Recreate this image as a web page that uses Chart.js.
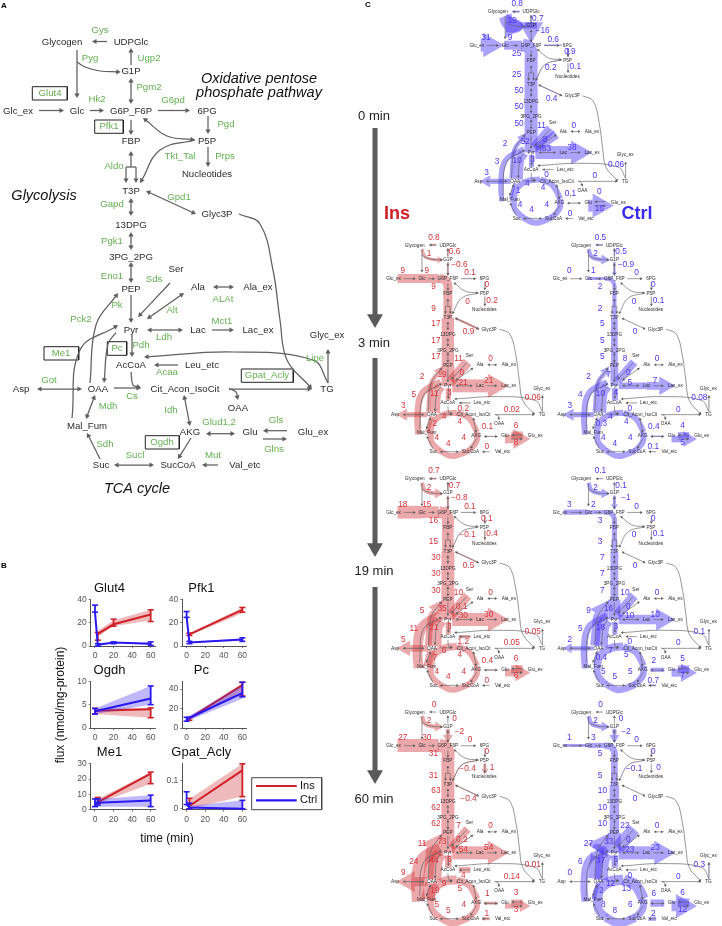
<!DOCTYPE html>
<html>
<head>
<meta charset="utf-8">
<script src="https://cdn.jsdelivr.net/npm/chart.js@4"></script>
<style>
html,body{margin:0;padding:0;background:#fff;}
#wrap{position:relative;width:722px;height:926px;overflow:hidden;}
canvas{position:absolute;display:block;}
</style>
</head>
<body>
<div id="wrap"><canvas id="main" width="722" height="926" style="left:0;top:0"></canvas></div>
<script>
// ---------- network nodes ----------
const nodeNames=["Glycogen","UDPGlc","G1P","Glc_ex","Glc","G6P_F6P","6PG","FBP","P5P","Nucleotides","T3P","Glyc3P","13DPG","3PG_2PG","Ser","PEP","Ala","Ala_ex","Pyr","Lac","Lac_ex","Glyc_ex","AcCoA","Leu_etc","Asp","OAA","Cit_Acon_IsoCit","TG","OAA","Mal_Fum","AKG","Glu","Glu_ex","Suc","SucCoA","Val_etc"];
const nodeX=[62,131,131,18,77,131,207,131,207,207,131,217,131,131,176,131,198,258,131,198,258,327,131,202,21,98,185,327,238,87,190,250,313,101,178,245];
const nodeY=[42,42,71,111,111,111,111,141,141,174,191,214,225,257,269,289,287,287,330,330,330,335,365,365,389,389,389,389,408,426,432,432,432,465,465,465];
// ---------- enzymes (panel A) ----------
const enzymeNames=["Gys","Pyg","Ugp2","Pgm2","Glut4","Hk2","G6pd","Pgd","Pfk1","Tkt_Tal","Prps","Aldo","Gpd1","Gapd","Pgk1","Eno1","Sds","ALAt","Alt","Pk","Pck2","Mct1","Ldh","Pdh","Pc","Me1","Lipe","Acaa","Gpat_Acly","Got","Cs","Mdh","Idh","Glud1,2","Gls","Ogdh","Sdh","Glns","Sucl","Mut"];
const enzymeX=[100,90,149,149,50,97,173,226,109,180,225,114,179,112,112,112,154,223,172,117,81,222,164,141,117,61,315,167,267,49,132,108,171,219,276,162,105,274,135,213];
const enzymeY=[30,58,58,87,93,99,100,124,126,156,156,166,197,204,241,276,279,299,310,305,319,321,337,345,348,353,358,372,375,380,396,406,410,422,420,442,444,449,455,455];
const boxedEnzymes=[[32.3,86.7,67.3,100],[94.7,120,123.3,133.3],[44,346.7,78.7,360],[107.3,341.7,126.7,355.3],[241.3,369,293.3,382.3],[145.3,435.7,179.3,449]];
// ---------- network arrows: h=1 head at end, h=2 both ends, h=0 none ----------
const networkEdges=[
 {h:1,p:[[107,41.5],[92,41.5]]},{h:1,p:[[77,50],[77,98]]},{h:1,p:[[77,62],[85,67],[100,71],[120.7,72]]},
 {h:1,p:[[131,65],[131,48]]},{h:2,p:[[131,78],[131,104]]},{h:1,p:[[39,110.5],[64,110.5]]},
 {h:1,p:[[90,110.5],[104,110.5]]},{h:1,p:[[158,110.5],[190,110.5]]},{h:1,p:[[208,116],[208,134]]},
 {h:1,p:[[131,120],[131,135]]},{h:2,p:[[195,140],[167,136],[143,118]]},{h:1,p:[[195,140],[160,150],[140,183]]},
 {h:1,p:[[208,147],[208,167]]},{h:1,p:[[131,167],[131,151]]},{h:0,p:[[126,167],[136,167]]},
 {h:1,p:[[126,167],[126,183]]},{h:1,p:[[136,167],[136,183]]},{h:2,p:[[146,191],[196,214]]},
 {h:2,p:[[131,198],[131,216]]},{h:2,p:[[131,232],[131,250]]},{h:2,p:[[131,262],[131,283]]},
 {h:1,p:[[131,295],[131,323]]},{h:1,p:[[170,283],[138,317]]},{h:2,p:[[184,293],[147,319]]},
 {h:2,p:[[213,287],[234,287]]},{h:2,p:[[147,330],[183,330]]},{h:1,p:[[212,330],[234,330]]},
 {h:1,p:[[132,335],[132,357]]},{h:1,p:[[178,365],[154,365]]},{h:1,p:[[116,332.7],[108,344],[104,382.7]]},
 {h:1,p:[[90,383],[96,325],[118,293]]},{h:1,p:[[72,418],[80,350],[118,325]]},{h:1,p:[[131,372],[133,385],[141,388]]},
 {h:1,p:[[114,388],[141,388]]},{h:1,p:[[229,388.5],[236,392],[238,400]]},{h:1,p:[[229,389],[312,389]]},
 {h:1,p:[[239,214],[260,224],[273,270],[280,320],[287,360],[312,389]]},{h:1,p:[[328,383],[328,349]]},
 {h:1,p:[[328,383],[313,360],[233,352],[144,357]]},{h:2,p:[[37,389],[82,389]]},{h:2,p:[[95,395],[86,419]]},
 {h:1,p:[[100,459],[87,433]]},{h:2,p:[[184,395],[190,426]]},{h:1,p:[[191,438],[178,459]]},
 {h:2,p:[[114,465],[154,465]]},{h:1,p:[[218,465],[202,465]]},{h:2,p:[[206,433.7],[235,433.7]]},
 {h:1,p:[[287,430.7],[263,430.7]]},{h:1,p:[[263,439],[287,439]]}
];
// ---------- fluxes ----------
const fluxKeys=["gys","ugp","pyg","pgm","glut","hk","g6pd","pgd","pfk","tkt","prps","aldo","gapd","gpd","pgk","eno","sds","alat","alt","pk","pck","ldh","mct","pc","pdh","me","lipe","acaa","gpat","got","cs","idh","glud","gls","mdh","sdh","ogdh","sucl","gln","mut"];
const fluxLabelX=[102,145,92,155,37,87,177,212,101,172,223,101,106,174,106,106,153,220,160,119,77,163,216,102,134,60,308,163,264,38,123,156,213,273,104,108,164,132,273,212];
const fluxLabelY=[26,55,60,81,94,94,98,123,127,157,155,171,203,219,237,270,275,275,304,308,312,323,320,346,344,349,354,376,378,371,394,403,414,411,408,437,437,448,446,455];
const flux0Ctrl=[0.8,0.7,19,-16,31,9,0.6,0.9,25,0.2,0.1,25,50,0.4,50,50,11,0,8,52,2,53,38,10,3,3,0.06,0,0,3,4,4,0.1,0,1,4,4,4,16,0];
const flux3Ins=[0.8,0.6,1,-0.6,9,9,0.1,0,9,0,0.2,9,17,0.9,17,17,11,0,0,19,2,21,21,11,3,5,0.06,0.2,0.02,3,4,4,0.1,6,2,4,4,4,8,0];
const flux3Ctrl=[0.5,0.5,2,-0.9,0,1,0,0,2,0,0.1,2,5,0,5,5,8,0,0,7,2,5,7,10,4,4,0.08,0,0,3,4,4,0.4,4,0.3,4,4,4,5,0.1];
const flux19Ins=[0.7,0.7,2,-0.8,18,15,0.1,0.1,16,-0.1,0.4,15,30,0.5,30,30,10,0,0.1,35,5,30,30,21,3,11,0.05,1.2,0.05,5,6,4,0.4,6,7,4,4,4,6,0];
const flux19Ctrl=[0.1,0.1,2,-1,3,2,0,0,3,0,0.1,3,7,0,7,7,10,0,0,16,9,10,10,18,3,5,0.1,0,0,2,7,5,2,5,0.4,5,5,5,7,0.7];
const flux60Ins=[0,0,2,-2,27,30,0,0,31,-0.4,1,31,63,-0.4,62,62,7,0,0.2,73,11,54,54,44,5,24,0.01,4,0.14,9,9,5,1,3,19,5,4,5,3,1];
const flux60Ctrl=[0,0,2,-2,1,3,0,0,5,-0.1,0,5,10,0,10,10,22,0,0,33,27,23,23,37,5,6,0.3,0,0,0,12,13,6,6,2,8,6,8,12,2];
const fluxPaths={
 gys:[[107,41],[92,41]],ugp:[[131,65],[131,48]],pyg:[[77,50],[84,66],[100,71],[122,72]],pgm:[[131,76],[131,106]],
 glut:[[26,110],[75,110]],hk:[[75,110],[112,110]],g6pd:[[158,110],[195,110]],pgd:[[208,116],[208,134]],
 pfk:[[112,110],[125,113],[131,124],[131,141]],tkt:[[195,140],[160,150],[140,183]],prps:[[208,147],[208,170]],
 aldo:[[131,141],[131,191]],gapd:[[131,191],[131,225]],gpd:[[146,191],[196,214]],pgk:[[131,225],[131,257]],
 eno:[[131,257],[131,289]],sds:[[172,281],[138,320]],alat:[[213,287],[234,287]],alt:[[184,293],[145,320]],
 pk:[[131,289],[131,330]],pck:[[90,383],[96,325],[120,290]],ldh:[[140,330],[198,330]],mct:[[198,330],[258,330]],
 pc:[[116,331],[107,345],[104,385]],pdh:[[132,335],[132,360]],me:[[70,430],[68,390],[78,345],[116,322]],
 lipe:[[328,383],[328,349]],acaa:[[178,365],[154,365]],gpat:[[229,389],[312,389]],got:[[88,389],[24,389]],
 cs:[[95,425],[100,405],[122,389],[150,385]],idh:[[150,385],[176,397],[192,425]],glud:[[206,433],[235,433]],
 gls:[[287,431],[263,431]],mdh:[[88,426],[97,392]],sdh:[[112,462],[97,445],[95,425]],
 ogdh:[[192,425],[190,445],[175,463]],sucl:[[175,463],[140,474],[112,462]],gln:[[250,439],[303,439]],mut:[[218,465],[202,465]]
};
const headedFluxes=["pyg","pgm","prps","pck","mct","got","gln"];
// ---------- mini networks ----------
const miniLabels=[flux0Ctrl,flux3Ins,flux3Ctrl,flux19Ins,flux19Ctrl,flux60Ins,flux60Ctrl];
const miniConds=["Ctrl","Ins","Ctrl","Ins","Ctrl","Ins","Ctrl"];
const miniOX=[468.2,385,551.5,385,551.5,385,551.5];
const miniOY=[-8.5,224.8,224.8,458.5,458.5,691.8,691.8];
const timeLabels=["0 min","3 min","19 min","60 min"];
const timeLabelY=[116,343,571,799];
const arrowTop=[128,358,587];
const arrowTip=[328,557,784];
// ---------- panel B ----------
const panelNames=["Glut4","Pfk1","Ogdh","Pc","Me1","Gpat_Acly"];
const xTicks=[0,20,40,60];
const yTicks=[[0,20,40],[0,20,40],[0,5,10],[0,20,40],[0,10,20,30],[0,0.1]];
const yMins=[0,0,0,0,0,-0.003];
const yMaxs=[40,40,10,48,30,0.16];
const insTimes=[[3,20,60],[3,60],[0,60],[3,60],[3,60],[3,60]];
const insVals=[[10.3,18.6,27],[10,31],[3.7,4],[10,44],[5,23.5],[0.01,0.135]];
const insLo=[[5,17,21],[9,29],[3,2.2],[8,33],[4,17],[0,0.043]];
const insHi=[[11.5,23,31],[11,33],[4.2,4.3],[11,47],[8,24.5],[0.037,0.158]];
const insBandLo=[[8,17,22],[9,28],[3,2.2],[8,38],[4,17],[0,0.043]];
const insBandHi=[[13,22,31],[11,33],[4.2,4.3],[11,46],[7,24.5],[0.035,0.158]];
const ctrlTimes=[[0,3,20,60],[0,3,60],[0,60],[0,60],[0,3,60],[0,3,60]];
const ctrlVals=[[29,1,3,2],[25,3,5.5],[3.6,6.3],[9,36],[4.5,4.5,6],[0.015,0.005,0]];
const ctrlLo=[[29,0,2,0.5],[24.5,2,4],[3,5],[7,32],[2,3,2],[0.015,0,0]];
const ctrlHi=[[35,2,3.5,3.5],[29.5,4,7],[4.2,9],[11,47],[7,7,9.5],[0.06,0.02,0.03]];
const ctrlBandLo=[[29,0.5,2.5,1],[25,2.5,4.5],[3,5],[7,30],[2,2,2],[0.015,0,0]];
const ctrlBandHi=[[32,1.5,3.5,3],[27,3.5,6.5],[4.2,9],[11,44],[7,7,9.5],[0.03,0.01,0.03]];
const panelAreas=[[90.7,599.3,155,646],[182.3,599.3,246.7,646],[90.7,681.3,155,728],[182.3,681.3,246.7,728],[90.7,763.7,155,809.7],[182.3,763.3,246.7,809.7]];
const legendNames=["Ins","Ctrl"];

// ---------- styles ----------
const FONT='"Liberation Sans", Arial, sans-serif';
const RED='#cf2027',BLUE='#2a18f0',GREY='#5f5f5f',GREEN='#62b04f',NODE='#2b2b2b';
const RED_F='rgba(208,50,55,0.42)',BLUE_F='rgba(70,50,250,0.45)';
const NUM_RED='#d5333b',NUM_BLUE='#4a34f5';

const datasets=[],texts=[];
function lineDS(pts,color,width,order){
  return {showLine:true,data:pts.map(p=>({x:p[0],y:p[1]})),borderColor:color,borderWidth:width,
    pointRadius:0,tension:pts.length>2?0.4:0.0001,fill:false,order:order,borderCapStyle:'butt',borderJoinStyle:'round'};
}
function headsDS(heads,color,order){
  return {showLine:false,data:heads.map(h=>({x:h.x,y:h.y})),pointStyle:'triangle',
    pointRadius:heads.map(h=>h.r),pointRotation:heads.map(h=>h.a),
    pointBackgroundColor:color,pointBorderColor:color,pointBorderWidth:0,order:order};
}
function dirOf(a,b){const dx=b[0]-a[0],dy=b[1]-a[1],n=Math.hypot(dx,dy)||1;return [dx/n,dy/n];}
function rot(d){return Math.atan2(d[0],-d[1])*180/Math.PI;}
function addText(t,x,y,size,color,extra){texts.push(Object.assign({t,x,y,size,color,style:'',align:'center'},extra||{}));}

function drawNetwork(ox,oy,sx,sy,lw,hr){
  const T=p=>[ox+sx*p[0],oy+sy*p[1]];
  const heads=[];
  networkEdges.forEach(e=>{
    const pts=e.p.map(T);
    if(e.h>=1){
      const n=pts.length,d=dirOf(pts[n-2],pts[n-1]);
      const c=[pts[n-1][0]-d[0]*hr,pts[n-1][1]-d[1]*hr];
      heads.push({x:c[0],y:c[1],r:hr,a:rot(d)});pts[n-1]=c;
    }
    if(e.h===2){
      const d=dirOf(pts[1],pts[0]);
      const c=[pts[0][0]-d[0]*hr,pts[0][1]-d[1]*hr];
      heads.push({x:c[0],y:c[1],r:hr,a:rot(d)});pts[0]=c;
    }
    datasets.push(lineDS(pts,GREY,lw,2));
  });
  datasets.push(headsDS(heads,GREY,1));
  nodeNames.forEach((n,i)=>{
    const q=T([nodeX[i],nodeY[i]]);
    addText(n,q[0],q[1],sx===1?9.6:4.7,NODE);
  });
}
function fluxWidth(v){const a=Math.abs(v);if(a===0)return 0;if(a<1)return 2.5*a;return Math.min(13,3*Math.sqrt(a));}
function drawFluxes(vals,ox,oy,fill,numCol){
  const sx=0.48,sy=0.488;
  const T=p=>[ox+sx*p[0],oy+sy*p[1]];
  const V={};fluxKeys.forEach((k,i)=>V[k]=vals[i]);
  const heads=[];
  fluxKeys.forEach((k,i)=>{
    const v=vals[i],w=fluxWidth(v);
    const q=T([fluxLabelX[i],fluxLabelY[i]]);
    addText(String(v).replace('-','\u2212'),q[0],q[1],8.3,numCol);
    if(w<=0.15)return;
    const pts=fluxPaths[k].map(T);
    let hasHead=headedFluxes.includes(k)||(k==='glut'&&V.glut>2*V.hk);
    if(hasHead&&w>=1.5){
      const n=pts.length,d=dirOf(pts[n-2],pts[n-1]),r=Math.min(14,1.35*w);
      const tip=pts[n-1];
      heads.push({x:tip[0]-d[0]*r,y:tip[1]-d[1]*r,r:r,a:rot(d)});
      pts[n-1]=[tip[0]-d[0]*1.5*r,tip[1]-d[1]*1.5*r];
    }
    datasets.push(lineDS(pts,fill,w,5));
  });
  if(heads.length)datasets.push(headsDS(heads,fill,5));
}

// ---------- panel A ----------
drawNetwork(0,0,1,1,1.25,3);
enzymeNames.forEach((n,i)=>addText(n,enzymeX[i],enzymeY[i],9.6,GREEN));
boxedEnzymes.forEach(b=>{
  const d=lineDS([[b[0],b[1]],[b[2],b[1]],[b[2],b[3]],[b[0],b[3]],[b[0],b[1]]],'#222',1,2);
  d.tension=0;d.borderJoinStyle='miter';datasets.push(d);
});
addText("Oxidative pentose",259,79,14.5,'#111',{style:'italic'});
addText("phosphate pathway",259,93,14.5,'#111',{style:'italic'});
addText("Glycolysis",44,196,14.5,'#111',{style:'italic'});
addText("TCA cycle",137,489,14.5,'#111',{style:'italic'});
addText("A",4,6,8,'#000',{style:'bold'});
addText("B",4,566,8,'#000',{style:'bold'});
addText("C",368,5,8,'#000',{style:'bold'});

// ---------- panel C ----------
miniLabels.forEach((vals,i)=>{
  const ins=miniConds[i]==="Ins";
  drawFluxes(vals,miniOX[i],miniOY[i],ins?RED_F:BLUE_F,ins?NUM_RED:NUM_BLUE);
  drawNetwork(miniOX[i],miniOY[i],0.48,0.488,0.65,1.7);
});
timeLabels.forEach((t,i)=>addText(t,374,timeLabelY[i],13,'#222'));
const bigHeads=[];
arrowTop.forEach((top,i)=>{
  const r=9.2,c=arrowTip[i]-r;
  datasets.push(lineDS([[375,top],[375,c]],'#5a5a5a',5,3));
  bigHeads.push({x:375,y:c,r:r,a:180});
});
datasets.push(headsDS(bigHeads,'#5a5a5a',3));
addText("Ins",397,214,18,RED,{style:'bold'});
addText("Ctrl",637,214,18,'#3a2af0',{style:'bold'});

// ---------- shared panel B text + legend ----------
addText("flux (nmol/mg-protein)",61,705,12,'#111',{rotate:-90});
addText("time (min)",167,839,12,'#111');
{
  const b=lineDS([[251.7,777.7],[321.7,777.7],[321.7,809.7],[251.7,809.7],[251.7,777.7]],'#444',1,2);
  b.tension=0;b.borderJoinStyle='miter';datasets.push(b);
  datasets.push(lineDS([[256,786],[296.7,786]],RED,2.2,1));
  datasets.push(lineDS([[256,800.3],[296.7,800.3]],BLUE,2.2,1));
  addText(legendNames[0],300,786,11,'#111',{align:'left'});
  addText(legendNames[1],300,800.3,11,'#111',{align:'left'});
}

const textPlugin={id:'textLayer',afterDatasetsDraw(chart){
  const c=chart.ctx,X=chart.scales.x,Y=chart.scales.y;
  c.save();c.textBaseline='middle';
  texts.forEach(o=>{
    c.font=(o.style?o.style+' ':'')+o.size+'px '+FONT;
    c.fillStyle=o.color;c.textAlign=o.align;
    const x=X.getPixelForValue(o.x),y=Y.getPixelForValue(o.y);
    if(o.rotate){c.save();c.translate(x,y);c.rotate(o.rotate*Math.PI/180);c.fillText(o.t,0,0);c.restore();}
    else c.fillText(o.t,x,y);
  });
  c.restore();
}};

new Chart(document.getElementById('main'),{
  type:'scatter',
  data:{datasets},
  plugins:[textPlugin],
  options:{
    responsive:false,animation:false,events:[],
    layout:{padding:0,autoPadding:false},
    plugins:{legend:{display:false},tooltip:{enabled:false},title:{display:false}},
    scales:{
      x:{type:'linear',display:false,min:0,max:722},
      y:{type:'linear',display:false,min:0,max:926,reverse:true}
    }
  }
});

// ---------- panel B charts ----------
function xy(ts,vs){return ts.map((t,i)=>({x:t,y:vs[i]}));}
function seriesDS(times,vals,lo,hi,bLo,bHi,color,fillCol,base){
  const out=[];
  out.push({showLine:true,data:xy(times,bLo),borderWidth:0,borderColor:'transparent',pointRadius:0,fill:false,order:base+2});
  out.push({showLine:true,data:xy(times,bHi),borderWidth:0,borderColor:'transparent',pointRadius:0,fill:'-1',backgroundColor:fillCol,order:base+2});
  out.push({showLine:true,data:xy(times,vals),borderColor:color,borderWidth:2,pointRadius:0,tension:0,fill:false,order:base+1,clip:false});
  times.forEach((t,i)=>{
    out.push({showLine:true,data:[{x:t,y:lo[i]},{x:t,y:hi[i]}],borderColor:color,borderWidth:1.8,fill:false,
      pointStyle:'line',pointRadius:3,pointBorderColor:color,pointBorderWidth:1.6,order:base,clip:false});
  });
  return out;
}
const wrap=document.getElementById('wrap');
panelNames.forEach((name,i)=>{
  const [l,t,r,b]=panelAreas[i];
  const left=Math.floor(l-26),top=Math.floor(t-17);
  const W=Math.ceil(r+26)-left,H=Math.ceil(b+18)-top;
  const cv=document.createElement('canvas');
  cv.width=W;cv.height=H;cv.style.left=left+'px';cv.style.top=top+'px';
  wrap.appendChild(cv);
  const ds=[...seriesDS(ctrlTimes[i],ctrlVals[i],ctrlLo[i],ctrlHi[i],ctrlBandLo[i],ctrlBandHi[i],BLUE,'rgba(60,40,240,0.33)',1),
            ...seriesDS(insTimes[i],insVals[i],insLo[i],insHi[i],insBandLo[i],insBandHi[i],RED,'rgba(205,40,45,0.32)',10)];
  const axisGrid={drawOnChartArea:false,drawTicks:true,tickLength:2,color:'#555',lineWidth:0.8};
  const tickFont={family:FONT,size:8.5};
  new Chart(cv,{
    type:'scatter',
    data:{datasets:ds},
    options:{
      responsive:false,animation:false,events:[],
      layout:{autoPadding:false,padding:{left:0,top:0,bottom:0,right:left+W-r}},
      plugins:{legend:{display:false},tooltip:{enabled:false},
        title:{display:true,text:name,color:'#111',font:{family:FONT,size:13,weight:'normal',lineHeight:1},
          padding:{top:0,bottom:t-top-13}}},
      scales:{
        x:{type:'linear',min:-4.63,max:64.66,
          afterBuildTicks:s=>{s.ticks=xTicks.map(v=>({value:v}));},
          afterFit:s=>{s.height=top+H-b;},
          grid:axisGrid,border:{display:true,color:'#555',width:1},
          ticks:{font:tickFont,color:'#555',padding:2.5,maxRotation:0,autoSkip:false,callback:v=>String(v)}},
        y:{type:'linear',min:yMins[i],max:yMaxs[i],
          afterBuildTicks:s=>{s.ticks=yTicks[i].map(v=>({value:v}));},
          afterFit:s=>{s.width=l-left;},
          grid:axisGrid,border:{display:true,color:'#555',width:1},
          ticks:{font:tickFont,color:'#555',padding:2,autoSkip:false,callback:v=>String(v)}}
      }
    }
  });
});
</script>
</body>
</html>
